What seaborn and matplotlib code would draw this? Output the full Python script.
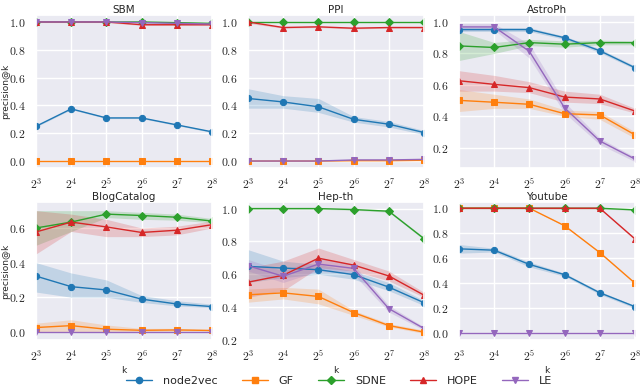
import matplotlib
matplotlib.use("Agg")
import matplotlib.pyplot as plt
import seaborn as sns
import pandas as pd

sns.set_theme(style="darkgrid")
plt.rcParams["font.family"] = ["DejaVu Sans"]
plt.rcParams["mathtext.fontset"] = "cm"

k_vals = [8, 16, 32, 64, 128, 256]
k_exps = [3, 4, 5, 6, 7, 8]
methods = ["node2vec", "GF", "SDNE", "HOPE", "LE"]
colors = ["#1f77b4", "#ff7f0e", "#2ca02c", "#d62728", "#9467bd"]
markers = ["o", "s", "D", "^", "v"]
titles = ["SBM", "PPI", "AstroPh", "BlogCatalog", "Hep-th", "Youtube"]

# mean values per dataset/method
sbm_mean = {
    "node2vec": [0.25, 0.375, 0.31, 0.31, 0.26, 0.21],
    "GF": [0.0, 0.0, 0.0, 0.0, 0.0, 0.0],
    "SDNE": [1.0, 1.0, 1.0, 1.0, 0.995, 0.99],
    "HOPE": [1.0, 1.0, 1.0, 0.98, 0.98, 0.98],
    "LE": [1.0, 1.0, 1.0, 0.995, 0.99, 0.985],
}
sbm_lo = {
    "node2vec": [0.245, 0.37, 0.305, 0.305, 0.255, 0.205],
    "GF": [0.0, 0.0, 0.0, 0.0, 0.0, 0.0],
    "SDNE": [1.0, 1.0, 1.0, 0.995, 0.99, 0.985],
    "HOPE": [0.995, 0.995, 0.995, 0.975, 0.975, 0.975],
    "LE": [1.0, 1.0, 1.0, 0.99, 0.985, 0.98],
}
sbm_hi = {
    "node2vec": [0.255, 0.38, 0.315, 0.315, 0.265, 0.215],
    "GF": [0.0, 0.0, 0.0, 0.0, 0.0, 0.0],
    "SDNE": [1.0, 1.0, 1.0, 1.0, 1.0, 0.995],
    "HOPE": [1.0, 1.0, 1.0, 0.985, 0.985, 0.985],
    "LE": [1.0, 1.0, 1.0, 1.0, 0.995, 0.99],
}

ppi_mean = {
    "node2vec": [0.45, 0.425, 0.39, 0.30, 0.265, 0.205],
    "GF": [0.0, 0.0, 0.0, 0.003, 0.003, 0.006],
    "SDNE": [1.0, 1.0, 1.0, 1.0, 1.0, 1.0],
    "HOPE": [1.0, 0.96, 0.965, 0.955, 0.96, 0.96],
    "LE": [0.0, 0.0, 0.0, 0.008, 0.008, 0.012],
}
ppi_lo = {
    "node2vec": [0.38, 0.38, 0.35, 0.28, 0.245, 0.19],
    "GF": [0.0, 0.0, 0.0, 0.0, 0.0, 0.0],
    "SDNE": [0.995, 0.995, 0.995, 0.995, 0.995, 0.995],
    "HOPE": [0.99, 0.955, 0.96, 0.95, 0.955, 0.955],
    "LE": [0.0, 0.0, 0.0, 0.004, 0.004, 0.008],
}
ppi_hi = {
    "node2vec": [0.52, 0.47, 0.45, 0.32, 0.285, 0.22],
    "GF": [0.0, 0.0, 0.0, 0.006, 0.006, 0.01],
    "SDNE": [1.0, 1.0, 1.0, 1.0, 1.0, 1.0],
    "HOPE": [1.0, 0.965, 0.97, 0.96, 0.965, 0.965],
    "LE": [0.0, 0.0, 0.0, 0.012, 0.012, 0.016],
}

astro_mean = {
    "node2vec": [0.952, 0.952, 0.952, 0.90, 0.817, 0.709],
    "GF": [0.501, 0.489, 0.476, 0.416, 0.408, 0.281],
    "SDNE": [0.848, 0.838, 0.869, 0.859, 0.869, 0.869],
    "HOPE": [0.626, 0.603, 0.582, 0.522, 0.510, 0.433],
    "LE": [0.969, 0.969, 0.813, 0.453, 0.242, 0.127],
}
astro_lo = {
    "node2vec": [0.94, 0.94, 0.94, 0.89, 0.805, 0.70],
    "GF": [0.43, 0.45, 0.45, 0.40, 0.38, 0.26],
    "SDNE": [0.755, 0.80, 0.85, 0.84, 0.855, 0.855],
    "HOPE": [0.56, 0.56, 0.55, 0.49, 0.48, 0.42],
    "LE": [0.95, 0.95, 0.77, 0.42, 0.22, 0.11],
}
astro_hi = {
    "node2vec": [0.965, 0.965, 0.965, 0.91, 0.83, 0.72],
    "GF": [0.57, 0.54, 0.51, 0.44, 0.43, 0.30],
    "SDNE": [0.94, 0.87, 0.89, 0.88, 0.885, 0.88],
    "HOPE": [0.69, 0.66, 0.62, 0.56, 0.54, 0.45],
    "LE": [0.99, 0.99, 0.86, 0.49, 0.26, 0.14],
}

blog_mean = {
    "node2vec": [0.322, 0.261, 0.242, 0.189, 0.161, 0.146],
    "GF": [0.025, 0.036, 0.015, 0.009, 0.011, 0.008],
    "SDNE": [0.600, 0.634, 0.680, 0.672, 0.662, 0.640],
    "HOPE": [0.577, 0.634, 0.606, 0.574, 0.587, 0.619],
    "LE": [0.0, 0.0, 0.0, 0.0, 0.0, 0.0],
}
blog_lo = {
    "node2vec": [0.23, 0.20, 0.20, 0.17, 0.15, 0.14],
    "GF": [0.0, 0.0, 0.0, 0.002, 0.004, 0.004],
    "SDNE": [0.50, 0.58, 0.66, 0.65, 0.645, 0.63],
    "HOPE": [0.45, 0.58, 0.55, 0.55, 0.56, 0.60],
    "LE": [0.0, 0.0, 0.0, 0.0, 0.0, 0.0],
}
blog_hi = {
    "node2vec": [0.40, 0.34, 0.30, 0.21, 0.18, 0.16],
    "GF": [0.05, 0.07, 0.04, 0.02, 0.02, 0.012],
    "SDNE": [0.70, 0.70, 0.70, 0.69, 0.68, 0.655],
    "HOPE": [0.70, 0.68, 0.65, 0.60, 0.61, 0.64],
    "LE": [0.0, 0.0, 0.0, 0.0, 0.0, 0.0],
}

hep_mean = {
    "node2vec": [0.648, 0.638, 0.628, 0.598, 0.522, 0.427],
    "GF": [0.475, 0.487, 0.465, 0.367, 0.288, 0.248],
    "SDNE": [1.0, 1.0, 1.0, 0.994, 0.984, 0.817],
    "HOPE": [0.552, 0.594, 0.698, 0.656, 0.590, 0.473],
    "LE": [0.652, 0.588, 0.662, 0.636, 0.391, 0.270],
}
hep_lo = {
    "node2vec": [0.55, 0.58, 0.60, 0.57, 0.50, 0.41],
    "GF": [0.43, 0.45, 0.42, 0.35, 0.28, 0.24],
    "SDNE": [0.995, 0.995, 0.995, 0.99, 0.978, 0.81],
    "HOPE": [0.46, 0.50, 0.64, 0.62, 0.56, 0.46],
    "LE": [0.62, 0.55, 0.62, 0.60, 0.37, 0.26],
}
hep_hi = {
    "node2vec": [0.75, 0.68, 0.66, 0.62, 0.55, 0.44],
    "GF": [0.51, 0.52, 0.51, 0.38, 0.30, 0.26],
    "SDNE": [1.0, 1.0, 1.0, 0.998, 0.99, 0.825],
    "HOPE": [0.64, 0.68, 0.76, 0.69, 0.62, 0.49],
    "LE": [0.69, 0.62, 0.70, 0.66, 0.41, 0.28],
}

yt_mean = {
    "node2vec": [0.675, 0.664, 0.550, 0.468, 0.323, 0.212],
    "GF": [1.0, 1.0, 1.0, 0.86, 0.645, 0.40],
    "SDNE": [1.0, 1.0, 1.0, 1.0, 1.0, 0.987],
    "HOPE": [1.0, 1.0, 1.0, 1.0, 1.0, 0.754],
    "LE": [0.0, 0.0, 0.0, 0.0, 0.0, 0.0],
}
yt_lo = {
    "node2vec": [0.64, 0.65, 0.53, 0.455, 0.31, 0.20],
    "GF": [1.0, 1.0, 1.0, 0.855, 0.64, 0.395],
    "SDNE": [0.995, 0.995, 0.995, 0.995, 0.995, 0.982],
    "HOPE": [0.995, 0.995, 0.995, 0.995, 0.995, 0.745],
    "LE": [0.0, 0.0, 0.0, 0.0, 0.0, 0.0],
}
yt_hi = {
    "node2vec": [0.71, 0.68, 0.57, 0.48, 0.335, 0.22],
    "GF": [1.0, 1.0, 1.0, 0.865, 0.65, 0.405],
    "SDNE": [1.0, 1.0, 1.0, 1.0, 1.0, 0.992],
    "HOPE": [1.0, 1.0, 1.0, 1.0, 1.0, 0.763],
    "LE": [0.0, 0.0, 0.0, 0.0, 0.0, 0.0],
}

datasets = [
    (sbm_mean, sbm_lo, sbm_hi),
    (ppi_mean, ppi_lo, ppi_hi),
    (astro_mean, astro_lo, astro_hi),
    (blog_mean, blog_lo, blog_hi),
    (hep_mean, hep_lo, hep_hi),
    (yt_mean, yt_lo, yt_hi),
]
ylims = [(-0.05, 1.05), (-0.05, 1.05), (0.07, 1.045),
         (-0.047, 0.75), (0.2, 1.04), (-0.055, 1.05)]
yticks = [[0.0, 0.2, 0.4, 0.6, 0.8, 1.0], [0.0, 0.2, 0.4, 0.6, 0.8, 1.0],
          [0.2, 0.4, 0.6, 0.8, 1.0], [0.0, 0.2, 0.4, 0.6],
          [0.2, 0.4, 0.6, 0.8, 1.0], [0.0, 0.2, 0.4, 0.6, 0.8, 1.0]]

W, H = 640, 389
fig = plt.figure(figsize=(W / 100, H / 100), dpi=100)
col_left = [36, 248, 459]
axw = 176
rows = [(15, 168), (202, 340)]

axes = []
for i in range(6):
    r, c = divmod(i, 3)
    top, bot = rows[r]
    ax = fig.add_axes([col_left[c] / W, 1 - bot / H, axw / W, (bot - top) / H])
    axes.append(ax)
    mean, lo, hi = datasets[i]
    for m, col, mk in zip(methods, colors, markers):
        df = pd.DataFrame({"k": k_vals, "p": mean[m]})
        sns.lineplot(data=df, x="k", y="p", ax=ax, color=col, marker=mk,
                     markersize=4.5, markeredgecolor=col, linewidth=1.0,
                     legend=False)
        ax.fill_between(k_vals, lo[m], hi[m], color=col, alpha=0.2, linewidth=0)
    ax.set_xscale("log", base=2)
    ax.set_xlim(k_vals[0], k_vals[-1])
    ax.set_xticks(k_vals)
    ax.set_xticklabels([rf"$2^{{{e}}}$" for e in k_exps])
    ax.xaxis.set_minor_locator(matplotlib.ticker.NullLocator())
    ax.set_ylim(*ylims[i])
    ax.set_yticks(yticks[i])
    ax.set_yticklabels([rf"${v:.1f}$" for v in yticks[i]])
    ax.tick_params(axis="x", labelsize=8.5, pad=0.5)
    ax.tick_params(axis="y", labelsize=8.5, pad=1.5)
    ax.set_title(titles[i], fontsize=7.5, pad=1.5)
    if c == 0:
        ax.set_ylabel("precision@k", fontsize=6.5)
        ax.yaxis.set_label_coords(-0.148, 0.5)
    else:
        ax.set_ylabel("")
    ax.set_xlabel("k" if r == 1 else "", fontsize=6.5, labelpad=1)

handles = [plt.Line2D([], [], color=col, marker=mk, markersize=4.5, linewidth=1.0)
           for col, mk in zip(colors, markers)]
fig.legend(handles, methods, loc="center", bbox_to_anchor=(0.53, 1 - 381 / H),
           ncol=5, frameon=False, fontsize=8, columnspacing=2.2,
           handlelength=2.3, handletextpad=1.0)

fig.savefig("out.png", dpi=100)
